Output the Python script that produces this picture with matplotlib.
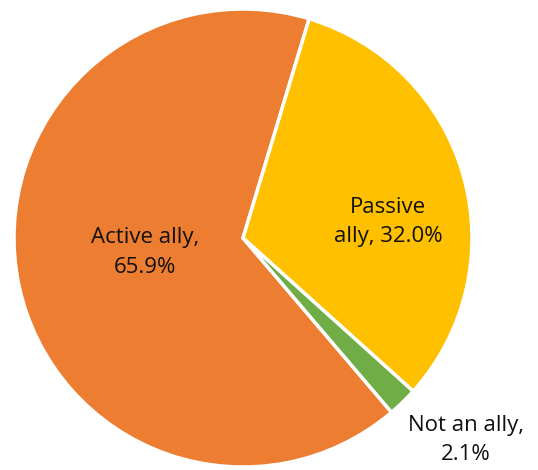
import matplotlib
matplotlib.use("Agg")
import matplotlib.pyplot as plt

labels = ["Active ally", "Passive ally", "Not an ally"]
shares = [65.9, 32.0, 2.1]
colors = ["#ED7D31", "#FFC000", "#70AD47"]
label_text = ["Active ally,\n65.9%", "Passive\nally, 32.0%", "Not an ally,\n2.1%"]

W, H = 538, 470
cx, cy, r = 243, 238, 229

fig = plt.figure(figsize=(W / 100, H / 100), dpi=100)
ax = fig.add_axes([0, 0, 1, 1])

# first slice (Active) ends 16.8 deg clockwise of 12 o'clock
start = 90 - 16.8 + 360 * shares[0] / 100
wedges, _ = ax.pie(shares, colors=colors, startangle=start, counterclock=False,
                   radius=1, wedgeprops=dict(edgecolor="white", linewidth=2.5))

ax.set_xlim(-cx / r, (W - cx) / r)
ax.set_ylim(-(H - cy) / r, cy / r)
ax.set_aspect("auto")
ax.axis("off")

pos = [(-0.428, -0.065), (0.633, 0.07), (0.974, -0.882)]
for (x, y), t in zip(pos, label_text):
    ax.text(x, y, t, ha="center", va="center", fontsize=16, family="Open Sans",
            color="#111111", linespacing=1.55)

fig.savefig("out.png", dpi=100)
